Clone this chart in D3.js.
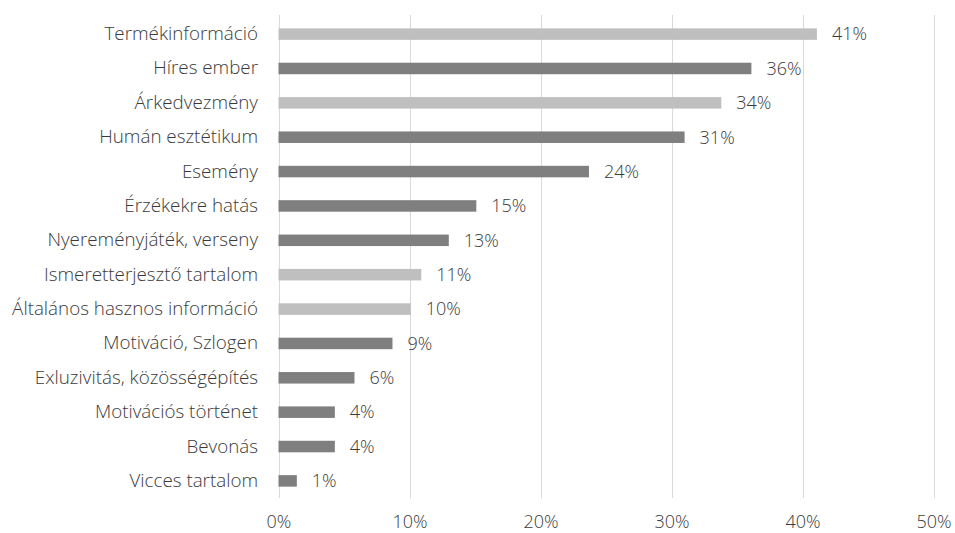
<!DOCTYPE html>
<html>
<head>
<meta charset="utf-8">
<script src="https://cdn.jsdelivr.net/npm/d3@7"></script>
<style>
  html, body { margin: 0; padding: 0; background: #fff; }
  svg text { font-family: "Open Sans", "Segoe UI", sans-serif; font-weight: 300; fill: #3a3a3a; }
</style>
</head>
<body>
<svg id="chart" width="955" height="533"></svg>
<script>
const categories = [
  "Termékinformáció", "Híres ember", "Árkedvezmény", "Humán esztétikum",
  "Esemény", "Érzékekre hatás", "Nyereményjáték, verseny",
  "Ismeretterjesztő tartalom", "Általános hasznos információ",
  "Motiváció, Szlogen", "Exluzivitás, közösségépítés",
  "Motivációs történet", "Bevonás", "Vicces tartalom"
];
const values = [41.1, 36.1, 33.8, 31.0, 23.7, 15.1, 13.0, 10.9, 10.1, 8.7, 5.8, 4.3, 4.3, 1.4];
const highlighted = ["Termékinformáció", "Árkedvezmény", "Ismeretterjesztő tartalom", "Általános hasznos információ"];
const xTicks = [0, 10, 20, 30, 40, 50];

const data = categories.map((c, i) => ({ cat: c, val: values[i] }));

const svg = d3.select("#chart");
const x = d3.scaleLinear().domain([0, 50]).range([278.5, 933.5]);
const y = d3.scaleBand().domain(categories).range([17, 498]).paddingInner(0.665).paddingOuter(0.33);

// vertical gridlines
svg.append("g").selectAll("line").data(xTicks).join("line")
  .attr("x1", d => Math.round(x(d)) + 0.5).attr("x2", d => Math.round(x(d)) + 0.5)
  .attr("y1", 15).attr("y2", 498)
  .attr("stroke", "#d9d9d9").attr("stroke-width", 1);

// x tick labels
const xAxis = d3.axisBottom(x).tickValues(xTicks).tickFormat(d => d + "%").tickSize(0).tickPadding(0);
const gx = svg.append("g").attr("transform", "translate(0,532)").call(xAxis);
gx.select(".domain").remove();
gx.selectAll("text").style("font-size", "18px").attr("dy", "-0.2em");

// category labels
const yAxis = d3.axisLeft(y).tickSize(0).tickPadding(0);
const gy = svg.append("g").attr("transform", "translate(258,0)").call(yAxis);
gy.select(".domain").remove();
gy.selectAll("text").style("font-size", "18.8px");

// bars
svg.append("g").selectAll("rect").data(data).join("rect")
  .attr("x", x(0))
  .attr("y", d => y(d.cat))
  .attr("width", d => x(d.val) - x(0))
  .attr("height", y.bandwidth())
  .attr("fill", d => highlighted.includes(d.cat) ? "#bfbfbf" : "#7f7f7f");

// value labels
svg.append("g").selectAll("text").data(data).join("text")
  .attr("x", d => x(d.val) + 15)
  .attr("y", d => y(d.cat) + y.bandwidth() / 2)
  .attr("dy", "0.35em")
  .style("font-size", "18px")
  .text(d => Math.round(d.val) + "%");
</script>
</body>
</html>
